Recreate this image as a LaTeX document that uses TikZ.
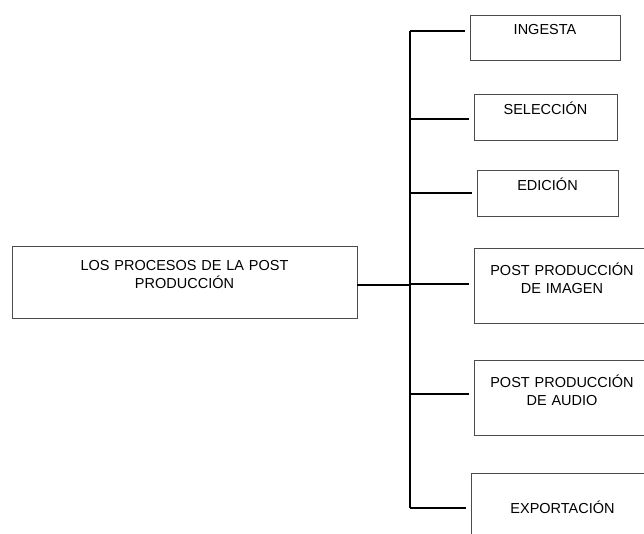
\documentclass[tikz,border=0pt]{standalone}
\usepackage{fontspec}
\setmainfont{Liberation Sans}
\usetikzlibrary{positioning}

\begin{document}
\begin{tikzpicture}[
  x=1pt, y=-1pt,
  procbox/.style={rectangle, draw=black!70, line width=0.9pt, anchor=north west, align=center, inner xsep=0pt, inner ysep=0pt, outer sep=0pt, text=black, font=\fontsize{14.5}{18.5}\selectfont},
  branch/.style={line width=2pt, shorten >=5pt},
  link/.style={line width=2pt}
]
  \useasboundingbox (0,0) rectangle (644,534);

  % Main box
  \node[procbox, text width=345pt, text height=24pt, text depth=48pt] (procesos) at (12,246) {LOS PROCESOS DE LA POST\\PRODUCCIÓN};

  % Stages
  \node[procbox, text width=150pt, text height=20pt, text depth=25pt] (ingesta) at (470,15) {INGESTA};
  \node[procbox, text width=143pt, text height=21pt, text depth=25pt] (seleccion) at (474,94) {SELECCIÓN};
  \node[procbox, text width=141pt, text height=21pt, text depth=25pt] (edicion) at (477,170) {EDICIÓN};
  \node[procbox, text width=176pt, text height=27pt, text depth=48pt] (imagen) at (474,248) {POST PRODUCCIÓN\\DE IMAGEN};
  \node[procbox, text width=176pt, text height=27pt, text depth=48pt] (audio) at (474,360) {POST PRODUCCIÓN\\DE AUDIO};
  \node[procbox, text width=183pt, text height=40pt, text depth=35pt] (exportacion) at (471,473) {EXPORTACIÓN};

  % Spine
  \coordinate (spinetop) at (410,31);
  \coordinate (spinebot) at (410,508);
  \draw[link] (spinetop) -- (spinebot);

  % Connections
  \draw[link] ([yshift=-3pt]procesos.east) -- ([yshift=-3pt]procesos.east -| spinetop);
  \draw[branch] (spinetop) -- (spinetop -| ingesta.west);
  \foreach \stage/\dy in {seleccion/-2, edicion/0, imagen/1.5, audio/3.5}
    \draw[branch] ([yshift=\dy pt]spinetop |- \stage.west) -- ([yshift=\dy pt]\stage.west);
  \draw[branch] (spinebot) -- (spinebot -| exportacion.west);
\end{tikzpicture}
\end{document}
